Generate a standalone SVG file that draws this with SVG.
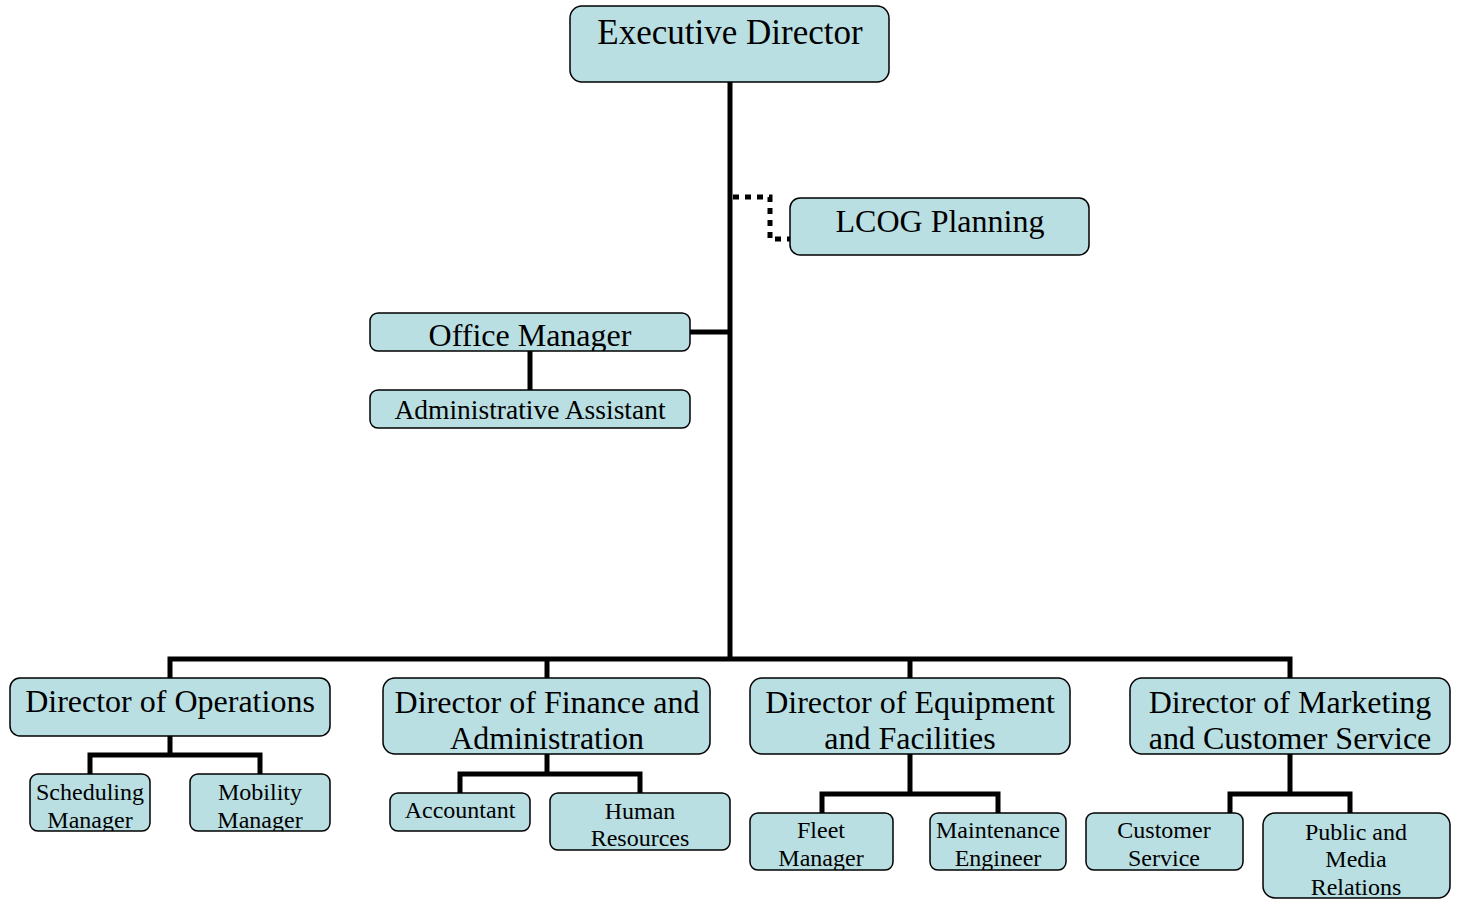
<svg xmlns="http://www.w3.org/2000/svg" width="1457" height="900" viewBox="0 0 1457 900">
  <style>
    text { font-family: "Liberation Serif", "Times New Roman", serif; fill: #000; text-anchor: middle; }
    .xl { font-size: 35px; }
    .l { font-size: 32px; }
    .m { font-size: 27.5px; }
    .s { font-size: 24px; }
    .box { fill: #b9dfe3; stroke: #000; stroke-width: 1.5; }
    .line { stroke: #000; stroke-width: 5; fill: none; }
    .dot { stroke: #000; stroke-width: 5; fill: none; stroke-dasharray: 6 6; }
  </style>
  <defs>
    <clipPath id="c-sched"><rect x="30" y="774" width="120" height="57" rx="8"/></clipPath>
    <clipPath id="c-mob"><rect x="190" y="774" width="140" height="57" rx="8"/></clipPath>
    <clipPath id="c-fleet"><rect x="750" y="813" width="143" height="57" rx="8"/></clipPath>
    <clipPath id="c-maint"><rect x="930" y="813" width="136" height="57" rx="8"/></clipPath>
    <clipPath id="c-office"><rect x="370" y="313" width="320" height="38" rx="8"/></clipPath>
  </defs>

  <rect width="1457" height="900" fill="#fff"/>

  <!-- reporting lines -->
  <g id="connectors">
    <path class="line" d="M730 82 V659"/>
    <path class="dot" d="M733 197 H770 V239 H790"/>
    <path class="line" d="M690 332 H730"/>
    <path class="line" d="M530 351 V390"/>
    <path class="line" d="M170 678 V659 H1290 V678"/>
    <path class="line" d="M547 659 V678"/>
    <path class="line" d="M910 659 V678"/>
    <!-- operations -->
    <path class="line" d="M170 736 V755"/>
    <path class="line" d="M90 774 V755 H260 V774"/>
    <!-- finance -->
    <path class="line" d="M547 754 V774"/>
    <path class="line" d="M460 793 V774 H640 V793"/>
    <!-- equipment -->
    <path class="line" d="M910 754 V794"/>
    <path class="line" d="M822 813 V794 H998 V813"/>
    <!-- marketing -->
    <path class="line" d="M1290 754 V794"/>
    <path class="line" d="M1230 813 V794 H1350 V813"/>
  </g>

  <g id="executive-director">
    <rect class="box" x="570" y="6" width="319" height="76" rx="12"/>
    <text class="xl" x="730" y="44">Executive Director</text>
  </g>

  <g id="lcog-planning">
    <rect class="box" x="790" y="198" width="299" height="57" rx="10"/>
    <text class="l" x="940" y="232">LCOG Planning</text>
  </g>

  <g id="office-manager">
    <rect class="box" x="370" y="313" width="320" height="38" rx="8"/>
    <text class="l" x="530" y="346" clip-path="url(#c-office)">Office Manager</text>
  </g>

  <g id="administrative-assistant">
    <rect class="box" x="370" y="390" width="320" height="38" rx="8"/>
    <text class="m" x="530" y="419">Administrative Assistant</text>
  </g>

  <g id="director-operations">
    <rect class="box" x="10" y="678" width="320" height="58" rx="10"/>
    <text class="l" x="170" y="712">Director of Operations</text>
  </g>

  <g id="director-finance">
    <rect class="box" x="383" y="678" width="327" height="76" rx="12"/>
    <text class="l" x="547" y="713">Director of Finance and</text>
    <text class="l" x="547" y="749">Administration</text>
  </g>

  <g id="director-equipment">
    <rect class="box" x="750" y="678" width="320" height="76" rx="12"/>
    <text class="l" x="910" y="713">Director of Equipment</text>
    <text class="l" x="910" y="749">and Facilities</text>
  </g>

  <g id="director-marketing">
    <rect class="box" x="1130" y="678" width="320" height="76" rx="12"/>
    <text class="l" x="1290" y="713">Director of Marketing</text>
    <text class="l" x="1290" y="749">and Customer Service</text>
  </g>

  <g id="scheduling-manager">
    <rect class="box" x="30" y="774" width="120" height="57" rx="8"/>
    <g clip-path="url(#c-sched)">
      <text class="s" x="90" y="800">Scheduling</text>
      <text class="s" x="90" y="828">Manager</text>
    </g>
  </g>

  <g id="mobility-manager">
    <rect class="box" x="190" y="774" width="140" height="57" rx="8"/>
    <g clip-path="url(#c-mob)">
      <text class="s" x="260" y="800">Mobility</text>
      <text class="s" x="260" y="828">Manager</text>
    </g>
  </g>

  <g id="accountant">
    <rect class="box" x="390" y="793" width="140" height="38" rx="8"/>
    <text class="s" x="460" y="818">Accountant</text>
  </g>

  <g id="human-resources">
    <rect class="box" x="550" y="793" width="180" height="57" rx="8"/>
    <text class="s" x="640" y="819">Human</text>
    <text class="s" x="640" y="846">Resources</text>
  </g>

  <g id="fleet-manager">
    <rect class="box" x="750" y="813" width="143" height="57" rx="8"/>
    <g clip-path="url(#c-fleet)">
      <text class="s" x="821" y="838">Fleet</text>
      <text class="s" x="821" y="866">Manager</text>
    </g>
  </g>

  <g id="maintenance-engineer">
    <rect class="box" x="930" y="813" width="136" height="57" rx="8"/>
    <g clip-path="url(#c-maint)">
      <text class="s" x="998" y="838">Maintenance</text>
      <text class="s" x="998" y="866">Engineer</text>
    </g>
  </g>

  <g id="customer-service">
    <rect class="box" x="1086" y="813" width="157" height="57" rx="8"/>
    <text class="s" x="1164" y="838">Customer</text>
    <text class="s" x="1164" y="866">Service</text>
  </g>

  <g id="public-media-relations">
    <rect class="box" x="1263" y="813" width="187" height="85" rx="12"/>
    <text class="s" x="1356" y="840">Public and</text>
    <text class="s" x="1356" y="867">Media</text>
    <text class="s" x="1356" y="895">Relations</text>
  </g>
</svg>
